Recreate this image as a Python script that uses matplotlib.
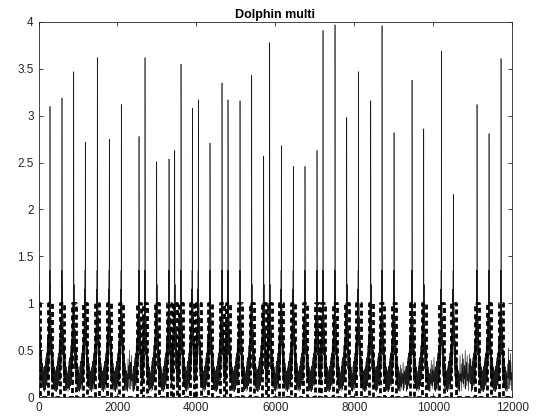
import numpy as np
import matplotlib.pyplot as plt
from matplotlib.ticker import FormatStrFormatter

# posizioni e altezze dei picchi
spike_x = [5, 291, 595, 892, 1185, 1489, 1793, 2097, 2546, 2698, 2994, 3306, 3450,
           3610, 3896, 4048, 4344, 4648, 4800, 5104, 5400, 5704, 5856, 6150, 6454,
           6750, 7054, 7206, 7510, 7807, 8101, 8415, 8701, 9005, 9461, 9757, 10203,
           10507, 11107, 11411, 11715]
spike_peak = [1.45, 3.10, 3.19, 3.47, 2.72, 3.62, 2.75, 3.12, 2.78, 3.62, 2.51, 2.54,
              2.63, 3.55, 3.08, 3.17, 2.71, 3.35, 3.17, 3.16, 3.43, 2.57, 3.78, 2.68,
              2.46, 2.46, 2.63, 3.91, 3.97, 2.98, 3.47, 3.16, 3.96, 2.82, 3.38, 2.86,
              3.69, 2.16, 3.12, 2.81, 3.61]

# livello del rumore di fondo dopo ogni picco
gap_level = [1.2, 1.0, 1.0, 1.0, 1.1, 1.0, 1.5, 1.8, 1.0, 1.0, 1.0, 1.0, 1.0,
             1.0, 1.1, 1.0, 1.0, 1.0, 1.0, 1.0, 1.0, 1.0, 1.0, 1.0, 1.0,
             1.0, 1.0, 1.0, 1.0, 1.0, 1.0, 1.0, 1.2, 1.3, 1.2, 1.5, 1.3,
             1.8, 1.5, 1.4, 1.9]

# forma attorno a ciascun picco
profile_dx = [-150, -142, -134, -126, -118, -110, -102, -94, -86, -78, -70, -62, -55,
              -48, -41, -35, -29, -24, -19, -15, -11, -8, -5, -3, 0, 3, 5, 8, 11, 15,
              19, 24, 29, 35, 41, 48, 55, 62, 70, 78, 86, 94, 102, 110, 118, 126,
              134, 142, 150]
profile_y = [0.30, 0.06, 0.33, 0.10, 0.38, 0.08, 0.42, 0.14, 0.47, 0.12, 0.55, 0.20,
             0.62, 0.18, 0.72, 0.30, 0.85, 0.35, 1.00, 0.50, 1.15, 0.60, 1.35, 0.90,
             None, 1.50, 0.85, 1.20, 0.55, 1.00, 0.45, 0.85, 0.30, 0.72, 0.22, 0.60,
             0.15, 0.50, 0.18, 0.42, 0.10, 0.36, 0.12, 0.32, 0.07, 0.28, 0.09, 0.25,
             0.06]

# rumore di fondo
base_noise = [0.06, 0.21, 0.04, 0.17, 0.09, 0.26, 0.03, 0.14, 0.19, 0.05, 0.23, 0.08,
              0.12, 0.02, 0.18, 0.07, 0.24, 0.10]

pulse_half = 55
x_end = 12000

xs, ys = [], []
k = 0
for i, (sx, pk) in enumerate(zip(spike_x, spike_peak)):
    lo = (spike_x[i - 1] + sx) / 2 if i > 0 else 0
    hi = (sx + spike_x[i + 1]) / 2 if i < len(spike_x) - 1 else x_end
    for dx, v in zip(profile_dx, profile_y):
        px = sx + dx
        if lo <= px < hi:
            xs.append(px)
            ys.append(pk if v is None else v)
    # fondo fino al picco successivo
    nxt = spike_x[i + 1] - 150 if i < len(spike_x) - 1 else x_end
    px = sx + 160
    while px < nxt:
        xs.append(px)
        ys.append(base_noise[k % len(base_noise)] * gap_level[i] + 0.03)
        k += 1
        px += 10

# onda quadra
sq_x, sq_y = [0, 40, 40], [1, 1, 0]
for sx in spike_x[1:]:
    sq_x += [sx - pulse_half, sx - pulse_half, sx + pulse_half, sx + pulse_half]
    sq_y += [0, 1, 1, 0]
sq_x.append(x_end)
sq_y.append(0)

plt.rcParams['font.family'] = ['Liberation Sans', 'DejaVu Sans']
fig = plt.figure(figsize=(5.37, 4.19), dpi=100)
ax = fig.add_axes([0.0717, 0.0525, 0.8823, 0.895])
ax.plot(xs, ys, color="#1a1a1a", lw=0.45)
ax.plot(sq_x, sq_y, color="black", lw=2.0, ls=(0, (1.8, 1.1)))
ax.set_xlim(0, 12000)
ax.set_ylim(0, 4)
ax.set_xticks(np.arange(0, 12001, 2000))
ax.set_yticks(np.arange(0, 4.01, 0.5))
ax.yaxis.set_major_formatter(FormatStrFormatter("%g"))
ax.tick_params(direction="in", top=True, right=True, length=3, width=0.6,
               labelsize=8.5, colors="#262626")
for s in ax.spines.values():
    s.set_color("#262626")
    s.set_linewidth(0.6)
ax.set_title("Dolphin multi", fontsize=9, fontweight="bold", pad=3)
fig.savefig("out.png", dpi=100)
